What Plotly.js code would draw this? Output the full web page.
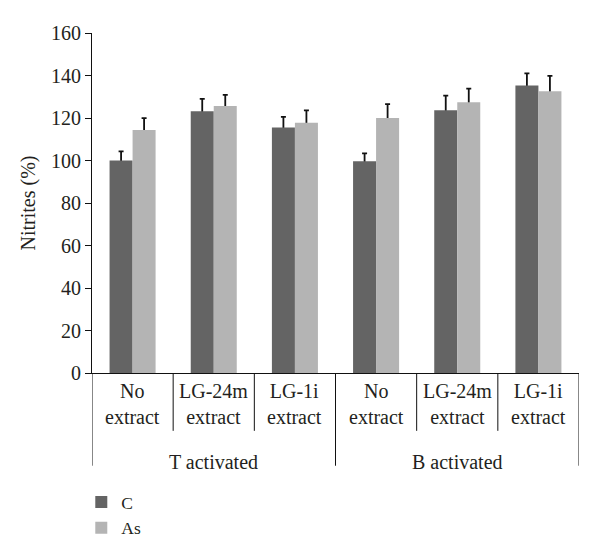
<!DOCTYPE html>
<html>
<head>
<meta charset="utf-8">
<script src="https://cdn.plot.ly/plotly-3.0.1.min.js"></script>
<style>html,body{margin:0;padding:0;background:#fff;}#chart{width:600px;height:557px;}</style>
</head>
<body>
<div id="chart"></div>
<script>
// ---- data ----
var groups = ['T activated', 'B activated'];
var subCategories = ['No<br>extract', 'LG-24m<br>extract', 'LG-1i<br>extract'];
var seriesNames = ['C', 'As'];
var valuesC = [100, 123.2, 115.5, 99.6, 123.7, 135.3];
var valuesAs = [114.3, 125.6, 117.8, 120.0, 127.4, 132.6];
var errorsC = [4.3, 5.8, 5.0, 3.8, 6.8, 5.7];
var errorsAs = [5.6, 5.3, 5.8, 6.5, 6.4, 7.2];
var yTicks = [0, 20, 40, 60, 80, 100, 120, 140, 160];

// ---- build ----
var labels = [];
groups.forEach(function (g, gi) {
  subCategories.forEach(function (s) { labels.push(s); });
});
var xs = labels.map(function (_, i) { return i; });

var fontFam = '"Liberation Serif", "Times New Roman", serif';
var txt = '#231f20';
var colors = { C: '#646464', As: '#b4b4b4' };
var fs = 20;

function errTrace(vals, errs, grp) {
  return {
    type: 'bar', x: xs, y: vals, offsetgroup: grp,
    marker: { color: 'rgba(0,0,0,0)' }, showlegend: false, hoverinfo: 'skip',
    error_y: { type: 'data', symmetric: false, array: errs, arrayminus: vals,
               color: '#111', thickness: 1.8, width: 2.5 }
  };
}
function barTrace(vals, name) {
  return {
    type: 'bar', x: xs, y: vals, name: name, offsetgroup: name,
    marker: { color: colors[name], line: { width: 0 } }
  };
}

var data = [
  errTrace(valuesC, errorsC, 'C'),
  errTrace(valuesAs, errorsAs, 'As'),
  barTrace(valuesC, seriesNames[0]),
  barTrace(valuesAs, seriesNames[1])
];

var plotH = 557 - 33 - 183;
function py(pixBelow) { return -pixBelow / plotH; }

var shapes = [];
var annotations = [];
for (var b = 0; b <= labels.length; b++) {
  var isGroupEdge = (b % subCategories.length === 0);
  shapes.push({
    type: 'line', xref: 'x', yref: 'paper', x0: b - 0.5, x1: b - 0.5,
    y0: 0, y1: py(isGroupEdge ? 93 : 58), line: { color: '#111', width: 1 }
  });
}
labels.forEach(function (l, i) {
  annotations.push({
    xref: 'x', yref: 'paper', x: i, y: py(31), text: l, showarrow: false,
    xanchor: 'center', yanchor: 'middle', font: { family: fontFam, size: fs, color: txt }
  });
});
groups.forEach(function (g, gi) {
  var mid = gi * subCategories.length + (subCategories.length - 1) / 2;
  annotations.push({
    xref: 'x', yref: 'paper', x: mid, y: py(89), text: g, showarrow: false,
    xanchor: 'center', yanchor: 'middle', font: { family: fontFam, size: fs, color: txt }
  });
});

var layout = {
  width: 600, height: 557,
  margin: { l: 92, r: 21, t: 33, b: 183, pad: 0 },
  paper_bgcolor: '#fff', plot_bgcolor: '#fff',
  barmode: 'group', bargap: 0.433, bargroupgap: 0,
  font: { family: fontFam, size: fs, color: txt },
  showlegend: true,
  legend: {
    orientation: 'v', x: -0.022, xanchor: 'left', y: py(172), yanchor: 'bottom',
    font: { family: fontFam, size: 17.5, color: txt }, traceorder: 'normal',
    bgcolor: 'rgba(0,0,0,0)'
  },
  xaxis: {
    range: [-0.5, labels.length - 0.5], showgrid: false, zeroline: false,
    showline: true, linecolor: '#111', linewidth: 1, ticks: '', showticklabels: false,
    fixedrange: true
  },
  yaxis: {
    range: [0, 160], tickvals: yTicks, showgrid: false, zeroline: false,
    showline: true, linecolor: '#111', linewidth: 1,
    ticks: 'outside', ticklen: 6, tickcolor: '#111', tickwidth: 1,
    tickfont: { family: fontFam, size: fs, color: txt },
    title: { text: 'Nitrites (%)', font: { family: fontFam, size: 20, color: txt }, standoff: 10 },
    automargin: false, fixedrange: true
  },
  shapes: shapes,
  annotations: annotations
};

Plotly.newPlot('chart', data, layout, { displayModeBar: false, staticPlot: true });
</script>
</body>
</html>
